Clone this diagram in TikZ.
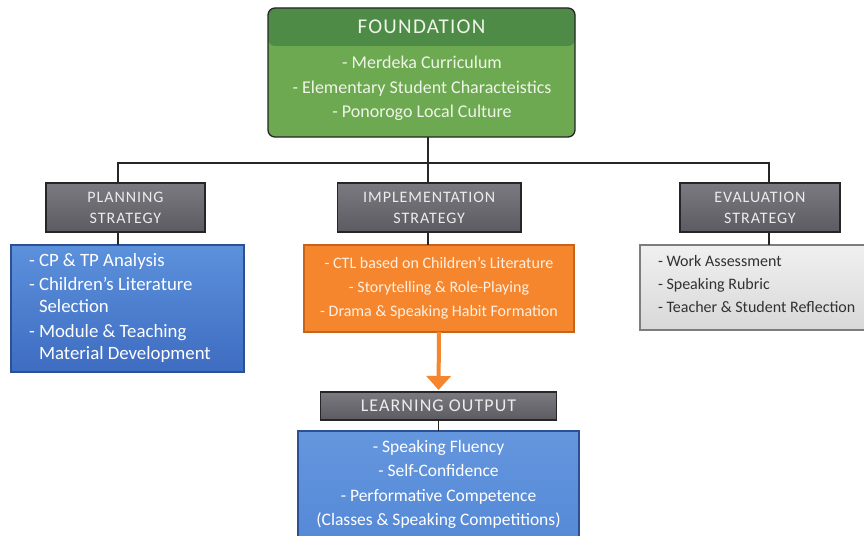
\documentclass[tikz,border=0pt]{standalone}
\usepackage{fontspec}
\setmainfont{Carlito}
\usetikzlibrary{arrows.meta}
\usetikzlibrary{positioning}
\definecolor{leafdark}{HTML}{4E8B47}
\definecolor{leaf}{HTML}{6CA951}
\definecolor{leaftext}{HTML}{EFF5E8}
\definecolor{greytop}{HTML}{7A7A80}
\definecolor{greybot}{HTML}{5B5B61}
\definecolor{headtext}{HTML}{ECECEC}
\definecolor{bluetop}{HTML}{5C91DC}
\definecolor{bluebot}{HTML}{3E6CC1}
\definecolor{blueline}{HTML}{2D4F94}
\definecolor{orange}{HTML}{F5862D}
\definecolor{orangeline}{HTML}{C8641A}
\definecolor{orangetext}{HTML}{FDF0E3}
\definecolor{paletop}{HTML}{F0F0F0}
\definecolor{palebot}{HTML}{D8D8D8}
\definecolor{wire}{HTML}{262626}
\newcommand*{\bodyfont}[2]{\fontsize{#1}{#2}\selectfont}
\newcommand*{\capsfont}[1]{\fontsize{#1}{21}\selectfont\addfontfeatures{LetterSpace=6}}
\tikzstyle{base}=[x=1pt, y=-1pt, outer sep=0pt]
\tikzstyle{headbox}=[draw=wire, line width=1.1pt, top color=greytop, bottom color=greybot, text=headtext, align=center, inner sep=0pt, font={\capsfont{16}}]
\tikzstyle{bluebox}=[draw=blueline, line width=1.1pt, top color=bluetop, bottom color=bluebot, text=white, inner sep=0pt]
\tikzstyle{wire}=[draw=wire, line width=1.5pt]

\begin{document}
\begin{tikzpicture}[base]
    \path [use as bounding box, fill=white] (0,0) rectangle (864,535);
        \node [draw=wire, line width=1.3pt, fill=leaf, rounded corners=7pt, minimum width=307pt, minimum height=129pt,
               path picture={\fill[leafdark] (path picture bounding box.north west) rectangle ([yshift=-38pt]path picture bounding box.north east);}]
              (found) at (421.5,72.5) {};
        \node [text=leaftext, inner sep=0pt, font={\capsfont{21}}] (foundtitle) at (421.5,27) {FOUNDATION};
        \node [text=leaftext, align=center, inner sep=0pt, font={\bodyfont{18}{24.5}}] (foundtext) at (422,88.5)
              {- Merdeka Curriculum\\- Elementary Student Characteistics\\- Ponorogo Local Culture};

        \node [headbox, minimum width=159pt, minimum height=49pt] (plan) at (125.5,207.5) {PLANNING\\STRATEGY};
        \node [headbox, minimum width=183.5pt, minimum height=49pt] (impl) at (429.25,207.5) {IMPLEMENTATION\\STRATEGY};
        \node [headbox, minimum width=160pt, minimum height=49pt] (eval) at (760,207.5) {EVALUATION\\STRATEGY};

        \node [bluebox, minimum width=233pt, minimum height=127pt] (planbody) at (127.5,308.5) {};
        \node [text=white, align=left, inner sep=0pt, font={\bodyfont{18.8}{22}}, anchor=west] (plantext) at ([xshift=18pt, yshift=0.5pt]planbody.west)
              {- CP \& TP Analysis\\[1.5pt]- Children's Literature\\\hphantom{- }Selection\\[3pt]- Module \& Teaching\\\hphantom{- }Material Development};
        \node [draw=orangeline, line width=1.1pt, fill=orange, text=orangetext, align=center, inner sep=0pt, font={\bodyfont{16}{24}},
               minimum width=270pt, minimum height=87pt] (implbody) at (439,288.5)
              {- CTL based on Children's Literature\\- Storytelling \& Role-Playing\\- Drama \& Speaking Habit Formation};
        \node [draw=wire!60, line width=1.1pt, top color=paletop, bottom color=palebot, minimum width=228pt, minimum height=85pt] (evalbody) at (754,287.5) {};
        \node [text=wire!95, align=left, inner sep=0pt, font={\bodyfont{16}{23}}, anchor=west] (evaltext) at ([xshift=18pt, yshift=3.5pt]evalbody.west)
              {- Work Assessment\\- Speaking Rubric\\- Teacher \& Student Reflection};

        \node [headbox, minimum width=236pt, minimum height=28pt, font={\capsfont{18}}] (out) at (438.5,406) {LEARNING OUTPUT};
        \node [bluebox, minimum width=281pt, minimum height=106pt, align=center, font={\bodyfont{17.5}{24}},
               top color=bluetop!95!white, bottom color=bluetop!80!bluebot] (outbody) at (438.5,484)
              {- Speaking Fluency\\- Self-Confidence\\[1pt]- Performative Competence\\(Classes \& Speaking Competitions)};

        \coordinate (split) at (428,163);
        \draw [wire] (found.south -| split) -- (split);
        \draw [wire] ([xshift=-7.5pt]plan.north) |- (split) -| ([xshift=9pt]eval.north);
        \draw [wire] (split) -- (split |- impl.north);
        \draw [wire] ([xshift=-7.5pt]plan.south) -- ([xshift=-7.5pt]plan.south |- planbody.north);
        \draw [wire] ([xshift=-1.5pt]impl.south) -- ([xshift=-1.5pt]impl.south |- implbody.north);
        \draw [wire] ([xshift=9pt]eval.south) -- ([xshift=9pt]eval.south |- evalbody.north);
        \draw [wire] (out.south) -- (outbody.north);
        \draw [orange, line width=4pt, -{Triangle[width=24pt,length=14pt]}, shorten >=2pt] (implbody.south) -- (out.north);
    \end{tikzpicture}
\end{document}
